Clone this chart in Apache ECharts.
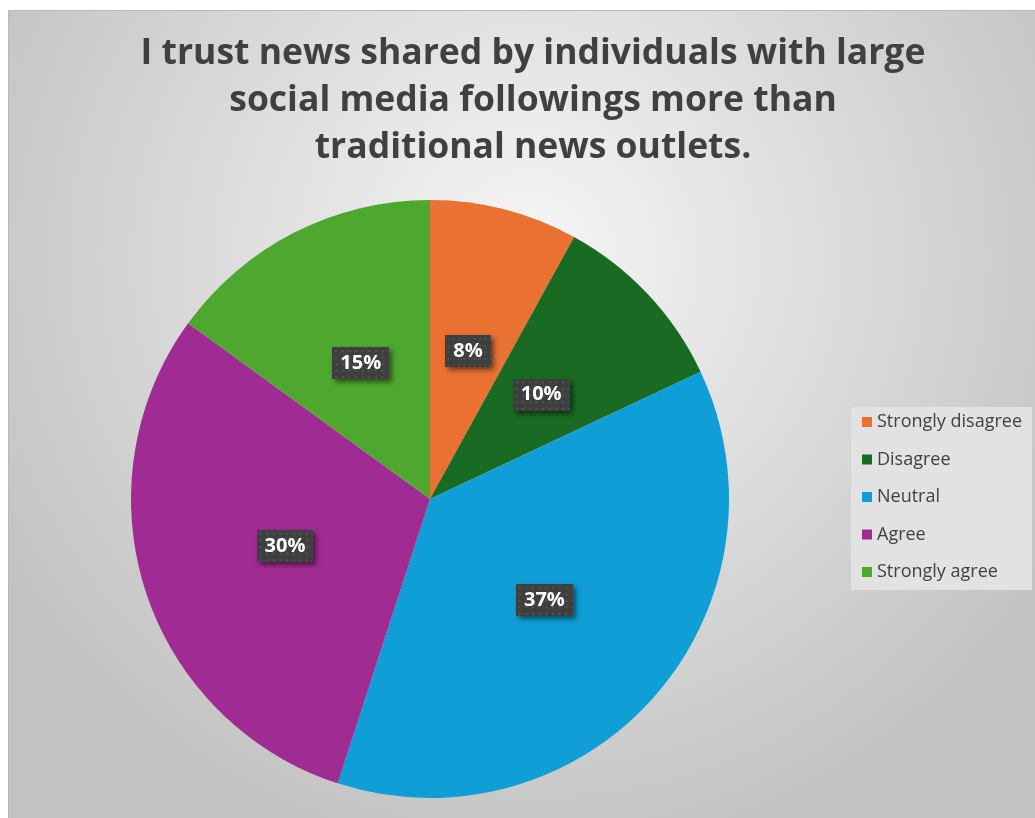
<!DOCTYPE html>
<html>
<head>
<meta charset="utf-8">
<style>
  html, body { margin: 0; padding: 0; background: #ffffff; }
  #chart { width: 1035px; height: 818px; }
</style>
<script src="https://cdn.jsdelivr.net/npm/echarts@6/dist/echarts.min.js"></script>
</head>
<body>
<div id="chart"></div>
<script>
// Survey responses (share of respondents, %)
const categories = ['Strongly disagree', 'Disagree', 'Neutral', 'Agree', 'Strongly agree'];
const shares = [8, 10, 37, 30, 15];
const colors = ['#E97132', '#196B24', '#0F9ED5', '#A02B93', '#4EA72E'];
const titleText = 'I trust news shared by individuals with large\nsocial media followings more than\ntraditional news outlets.';

// Dark dotted texture used behind the percentage labels
function makeDotTexture(w, h) {
  const c = document.createElement('canvas');
  c.width = w; c.height = h;
  const ctx = c.getContext('2d');
  ctx.fillStyle = '#3f3f3f';
  ctx.fillRect(0, 0, w, h);
  ctx.fillStyle = '#565656';
  for (let y = 3; y < h; y += 7) {
    for (let x = 3; x < w; x += 7) {
      ctx.fillRect(x, y, 2, 2);
    }
  }
  return c;
}
const dotTexture = makeDotTexture(60, 34);

const chart = echarts.init(document.getElementById('chart'), null, { renderer: 'canvas' });

const option = {
  animation: false,
  graphic: [{
    type: 'rect',
    z: -10,
    shape: { x: 8.5, y: 10.5, width: 1040, height: 820 },
    style: {
      fill: new echarts.graphic.RadialGradient(0.5, 0.3, 0.75, [
        { offset: 0, color: '#f6f6f6' },
        { offset: 1, color: '#c2c2c2' }
      ]),
      stroke: '#b9b9b9',
      lineWidth: 1
    }
  }],
  title: {
    text: titleText,
    left: 528,
    top: 25,
    textAlign: 'center',
    textStyle: {
      fontFamily: 'Open Sans',
      fontWeight: 'bold',
      fontSize: 35.5,
      lineHeight: 47,
      color: '#404040'
    }
  },
  legend: {
    orient: 'vertical',
    left: 851,
    top: 407,
    width: 182,
    padding: [5, 10, 8, 11],
    backgroundColor: '#e2e2e2',
    icon: 'rect',
    itemWidth: 10,
    itemHeight: 10,
    itemGap: 17.5,
    data: categories,
    textStyle: {
      fontFamily: 'Open Sans',
      fontSize: 18,
      color: '#404040',
      lineHeight: 20
    }
  },
  series: [{
    type: 'pie',
    center: [430, 499],
    radius: 299,
    startAngle: 90,
    clockwise: true,
    avoidLabelOverlap: false,
    data: categories.map((name, i) => ({
      name: name,
      value: shares[i],
      itemStyle: { color: colors[i] }
    })),
    label: {
      show: true,
      position: 'inner',
      formatter: p => p.value + '%',
      fontFamily: 'Open Sans',
      fontWeight: 'bold',
      fontSize: 20,
      color: '#ffffff',
      backgroundColor: { image: dotTexture },
      padding: [6, 8, 6, 8],
      shadowColor: 'rgba(0,0,0,0.5)',
      shadowBlur: 5,
      shadowOffsetX: 3,
      shadowOffsetY: 3
    },
    labelLine: { show: false },
    emphasis: { disabled: true }
  }]
};

chart.setOption(option);
</script>
</body>
</html>
